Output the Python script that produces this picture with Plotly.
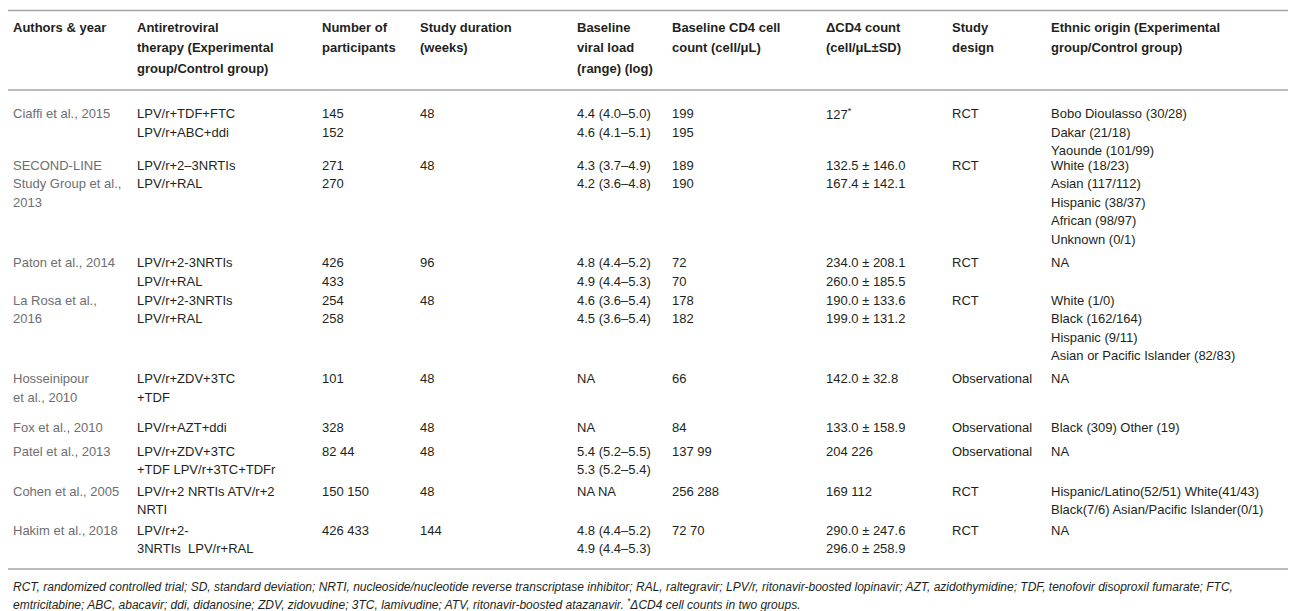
import plotly.graph_objects as go

# table content, one entry per study; "<br>" splits lines inside a cell
headers = [
    "Authors & year",
    "Antiretroviral<br>therapy (Experimental<br>group/Control group)",
    "Number of<br>participants",
    "Study duration<br>(weeks)",
    "Baseline<br>viral load<br>(range) (log)",
    "Baseline CD4 cell<br>count (cell/μL)",
    "ΔCD4 count<br>(cell/μL±SD)",
    "Study<br>design",
    "Ethnic origin (Experimental<br>group/Control group)",
]

authors = [
    "Ciaffi et al., 2015",
    "SECOND-LINE<br>Study Group et al.,<br>2013",
    "Paton et al., 2014",
    "La Rosa et al.,<br>2016",
    "Hosseinipour<br>et al., 2010",
    "Fox et al., 2010",
    "Patel et al., 2013",
    "Cohen et al., 2005",
    "Hakim et al., 2018",
]
therapy = [
    "LPV/r+TDF+FTC<br>LPV/r+ABC+ddi",
    "LPV/r+2–3NRTIs<br>LPV/r+RAL",
    "LPV/r+2-3NRTIs<br>LPV/r+RAL",
    "LPV/r+2-3NRTIs<br>LPV/r+RAL",
    "LPV/r+ZDV+3TC<br>+TDF",
    "LPV/r+AZT+ddi",
    "LPV/r+ZDV+3TC<br>+TDF LPV/r+3TC+TDFr",
    "LPV/r+2 NRTIs ATV/r+2<br>NRTI",
    "LPV/r+2-<br>3NRTIs  LPV/r+RAL",
]
participants = ["145<br>152", "271<br>270", "426<br>433", "254<br>258", "101",
                "328", "82 44", "150 150", "426 433"]
duration = ["48", "48", "96", "48", "48", "48", "48", "48", "144"]
viral_load = [
    "4.4 (4.0–5.0)<br>4.6 (4.1–5.1)",
    "4.3 (3.7–4.9)<br>4.2 (3.6–4.8)",
    "4.8 (4.4–5.2)<br>4.9 (4.4–5.3)",
    "4.6 (3.6–5.4)<br>4.5 (3.6–5.4)",
    "NA",
    "NA",
    "5.4 (5.2–5.5)<br>5.3 (5.2–5.4)",
    "NA NA",
    "4.8 (4.4–5.2)<br>4.9 (4.4–5.3)",
]
cd4_baseline = ["199<br>195", "189<br>190", "72<br>70", "178<br>182", "66",
                "84", "137 99", "256 288", "72 70"]
cd4_change = [
    "127<sup>*</sup>",
    "132.5 ± 146.0<br>167.4 ± 142.1",
    "234.0 ± 208.1<br>260.0 ± 185.5",
    "190.0 ± 133.6<br>199.0 ± 131.2",
    "142.0 ± 32.8",
    "133.0 ± 158.9",
    "204 226",
    "169 112",
    "290.0 ± 247.6<br>296.0 ± 258.9",
]
design = ["RCT", "RCT", "RCT", "RCT", "Observational", "Observational",
          "Observational", "RCT", "RCT"]
ethnicity = [
    "Bobo Dioulasso (30/28)<br>Dakar (21/18)<br>Yaounde (101/99)",
    "White (18/23)<br>Asian (117/112)<br>Hispanic (38/37)<br>African (98/97)<br>Unknown (0/1)",
    "NA",
    "White (1/0)<br>Black (162/164)<br>Hispanic (9/11)<br>Asian or Pacific Islander (82/83)",
    "NA",
    "Black (309) Other (19)",
    "NA",
    "Hispanic/Latino(52/51) White(41/43)<br>Black(7/6) Asian/Pacific Islander(0/1)",
    "NA",
]
footnote = [
    "RCT, randomized controlled trial; SD, standard deviation; NRTI, nucleoside/nucleotide reverse transcriptase inhibitor; "
    "RAL, raltegravir; LPV/r, ritonavir-boosted lopinavir; AZT, azidothymidine; TDF, tenofovir disoproxil fumarate; FTC,",
    "emtricitabine; ABC, abacavir; ddi, didanosine; ZDV, zidovudine; 3TC, lamivudine; ATV, ritonavir-boosted atazanavir. "
    "<sup>*</sup>ΔCD4 cell counts in two groups.",
]

columns = [authors, therapy, participants, duration, viral_load,
           cd4_baseline, cd4_change, design, ethnicity]

# layout (pixels)
W, H = 1296, 611
col_x = [3, 127, 312, 410, 567, 662, 816, 942, 1041]
header_y = 19
header_h = 20.5
row_y = [105.5, 157, 254.5, 292, 370.5, 419, 443, 483, 522]
line_h = 18.5
rule_y = [2.5, 82, 561]
foot_y = [579, 596]

FONT = "Liberation Sans, Arial, Helvetica, sans-serif"
DARK = "#231f20"
GREY = "#6d6e71"

fig = go.Figure()
annotations = []


def add_cell(x, y, text, color, step, bold=False):
    for i, part in enumerate(text.split("<br>")):
        annotations.append(dict(
            x=x, y=y + i * step, text=f"<b>{part}</b>" if bold else part,
            xref="x", yref="y", xanchor="left", yanchor="middle",
            showarrow=False, align="left",
            font=dict(family=FONT, size=13, color=color),
        ))


for x, h in zip(col_x, headers):
    add_cell(x, header_y, h, DARK, header_h, bold=True)

for c, col in enumerate(columns):
    for r, text in enumerate(col):
        add_cell(col_x[c], row_y[r], text, GREY if c == 0 else DARK, line_h)

for y, t in zip(foot_y, footnote):
    annotations.append(dict(
        x=3, y=y, text=f"<i>{t}</i>", xref="x", yref="y",
        xanchor="left", yanchor="middle", showarrow=False,
        font=dict(family=FONT, size=12, color=DARK),
    ))

for y in rule_y:
    fig.add_shape(type="line", xref="x", yref="y", x0=0, x1=W, y0=y, y1=y,
                  line=dict(color="#a5a5a5", width=1.5))

fig.update_layout(
    width=W, height=H,
    margin=dict(l=0, r=0, t=0, b=0),
    paper_bgcolor="white", plot_bgcolor="white",
    xaxis=dict(range=[0, W], visible=False, fixedrange=True),
    yaxis=dict(range=[H, 0], visible=False, fixedrange=True),
    annotations=annotations,
    showlegend=False,
)

fig.write_html("out.html")
